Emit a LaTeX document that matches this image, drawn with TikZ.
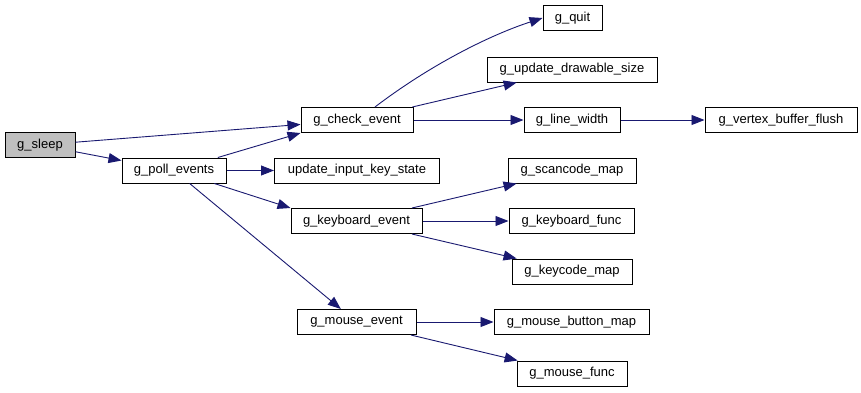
\documentclass[tikz,border=0pt]{standalone}
\usepackage{fontspec}
\setmainfont{Liberation Sans}
\usetikzlibrary{arrows.meta}
\definecolor{callblue}{HTML}{191970}
\definecolor{rootgray}{HTML}{BFBFBF}
\begin{document}
\begin{tikzpicture}[x=1pt,y=-1pt,
    fn/.style={draw=black,line width=1pt,fill=white,inner sep=0pt,minimum height=25pt,font=\fontsize{13}{15}\selectfont},
    call/.style={draw=callblue,line width=0.9pt,-{Triangle[length=13pt,width=10pt]}}]
      \useasboundingbox (0,0) rectangle (861,392);
      % functions
      \node [fn,fill=rootgray,minimum width=70pt] (sleep) at (40,145) {g\_sleep};
      \node [fn,minimum width=104pt] (poll) at (174,170.5) {g\_poll\_events};
      \node [fn,minimum width=112pt] (check) at (357,120) {g\_check\_event};
      \node [fn,minimum width=165pt] (keystate) at (357,170.5) {update\_input\_key\_state};
      \node [fn,minimum width=131pt] (keyboard) at (356.5,221) {g\_keyboard\_event};
      \node [fn,minimum width=119pt] (mouse) at (356.5,322) {g\_mouse\_event};
      \node [fn,minimum width=59pt] (quit) at (572.5,18) {g\_quit};
      \node [fn,minimum width=170pt] (drawsize) at (572,69.5) {g\_update\_drawable\_size};
      \node [fn,minimum width=96pt] (linewidth) at (572,120) {g\_line\_width};
      \node [fn,minimum width=152pt] (flush) at (781,120) {g\_vertex\_buffer\_flush};
      \node [fn,minimum width=128pt] (scancode) at (572,170.5) {g\_scancode\_map};
      \node [fn,minimum width=125pt] (kbfunc) at (571.5,221) {g\_keyboard\_func};
      \node [fn,minimum width=120pt] (keycode) at (572,271.5) {g\_keycode\_map};
      \node [fn,minimum width=155pt] (button) at (571.5,322) {g\_mouse\_button\_map};
      \node [fn,minimum width=110pt] (mfunc) at (572,373.5) {g\_mouse\_func};
      % calls
      \draw [call] (sleep) -- (check);
      \draw [call] (sleep) -- (poll);
      \draw [call] (poll) -- (check.south west);
      \draw [call] (poll) -- (keystate);
      \draw [call] (poll) -- (keyboard.north west);
      \draw [call] (poll) -- (mouse);
      \draw [call] ([xshift=18pt]check.north) .. controls (430,65) and (490,35) .. (quit.west);
      \draw [call] (check) -- (drawsize);
      \draw [call] (check) -- (linewidth);
      \draw [call] (linewidth) -- (flush);
      \draw [call] (keyboard) -- (scancode);
      \draw [call] (keyboard) -- (kbfunc);
      \draw [call] (keyboard) -- (keycode);
      \draw [call] (mouse) -- (button);
      \draw [call] (mouse) -- (mfunc);
    \end{tikzpicture}
\end{document}
